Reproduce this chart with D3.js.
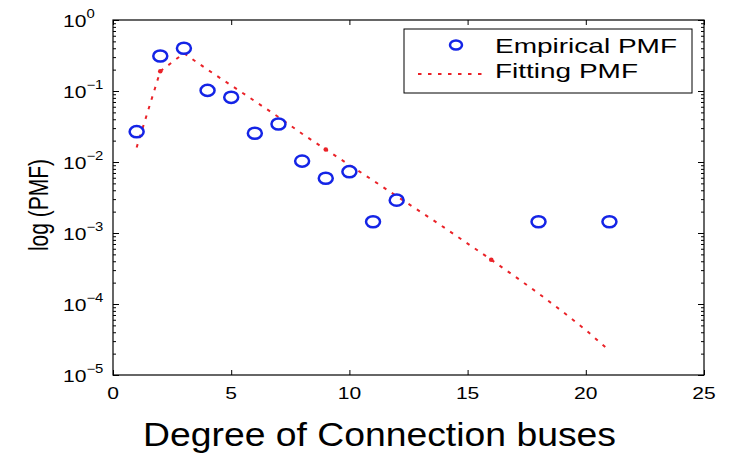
<!DOCTYPE html>
<html>
<head>
<meta charset="utf-8">
<script src="https://cdn.jsdelivr.net/npm/d3@7"></script>
<style>
body { margin: 0; background: #fff; }
svg { display: block; }
text { font-family: "Liberation Sans", Arial, sans-serif; fill: #000; }
</style>
</head>
<body>
<div id="chart"></div>
<script>
// # Empirical PMF (blue circles)
const empiricalDegree = [1, 2, 3, 4, 5, 6, 7, 8, 9, 10, 11, 12, 18, 21]
const empiricalPmf = [0.0267, 0.311, 0.40, 0.102, 0.0815, 0.0254, 0.0343, 0.0103, 0.0059, 0.0073, 0.00144, 0.0029, 0.00144, 0.00144]

// # Fitting PMF (red dotted line)
const fitDegree = [1, 2, 3, 4, 5, 6, 7, 8, 9, 10, 11, 12, 13, 14, 15, 16, 17, 18, 19, 20, 21]
const fitPmf = [0.016, 0.19, 0.34, 0.20, 0.12, 0.072, 0.043, 0.025, 0.015, 0.0091, 0.0055, 0.0033, 0.0020, 0.0012, 0.00071, 0.00042, 0.000245, 0.000141, 0.000079, 0.000043, 0.000022]
// # vertices where the dotted pattern shows a dot
const fitDotDegree = [2, 9, 16]

// # Axis ticks
const xTicks = [0, 5, 10, 15, 20, 25]
const yExponents = [0, -1, -2, -3, -4, -5]

const legendLabels = ['Empirical PMF', 'Fitting PMF']
const xTitle = 'Degree of Connection buses'
const yTitle = 'log (PMF)'

// # Settings
const width = 738, height = 460
const plotLeft = 113, plotRight = 704, plotTop = 20, plotBottom = 375
const blue = '#1424e6'
const red = '#ea2228'
const dotPattern = '3.5,6.5'
const stretch = 1.24   // text in the picture is wider than tall

const svg = d3.select('#chart').append('svg')
    .attr('width', width)
    .attr('height', height)

const x = d3.scaleLinear().domain([0, 25]).range([plotLeft, plotRight])
const y = d3.scaleLog().domain([1e-5, 1]).range([plotBottom, plotTop])

// # Minor log ticks
const minorTicks = []
yExponents.slice(0, -1).forEach(e => {
    for (let k = 2; k <= 9; k++) minorTicks.push(k * Math.pow(10, e - 1))
})
const majorTicks = yExponents.map(e => Math.pow(10, e))

const axisStyle = g => {
    g.select('.domain').remove()
    g.selectAll('line').attr('stroke', '#000').attr('stroke-width', 1)
}

// # Ticks pointing inward on every side
svg.append('g').attr('transform', `translate(0,${plotBottom})`)
    .call(d3.axisBottom(x).tickValues(xTicks).tickSize(-5).tickFormat('')).call(axisStyle)
svg.append('g').attr('transform', `translate(0,${plotTop})`)
    .call(d3.axisTop(x).tickValues(xTicks).tickSize(-5).tickFormat('')).call(axisStyle)
svg.append('g').attr('transform', `translate(${plotLeft},0)`)
    .call(d3.axisLeft(y).tickValues(majorTicks).tickSize(-6).tickFormat('')).call(axisStyle)
svg.append('g').attr('transform', `translate(${plotLeft},0)`)
    .call(d3.axisLeft(y).tickValues(minorTicks).tickSize(-3).tickFormat('')).call(axisStyle)
svg.append('g').attr('transform', `translate(${plotRight},0)`)
    .call(d3.axisRight(y).tickValues(majorTicks).tickSize(-6).tickFormat('')).call(axisStyle)
svg.append('g').attr('transform', `translate(${plotRight},0)`)
    .call(d3.axisRight(y).tickValues(minorTicks).tickSize(-3).tickFormat('')).call(axisStyle)

// # Plot box
svg.append('rect')
    .attr('x', plotLeft).attr('y', plotTop)
    .attr('width', plotRight - plotLeft).attr('height', plotBottom - plotTop)
    .attr('fill', 'none').attr('stroke', '#000').attr('stroke-width', 1.2)

// # X tick labels
svg.append('g').selectAll('g')
    .data(xTicks).enter().append('g')
    .attr('transform', d => `translate(${x(d)},399) scale(${stretch},1)`)
    .append('text')
    .attr('text-anchor', 'middle')
    .style('font-size', '17px')
    .text(d => d)

// # Y tick labels: 10^e
const yLab = svg.append('g').selectAll('g')
    .data(yExponents).enter().append('g')
    .attr('transform', d => `translate(63,${y(Math.pow(10, d)) + 6.5}) scale(${stretch},1)`)
    .append('text')
yLab.append('tspan').style('font-size', '17px').text('10')
yLab.append('tspan').style('font-size', '12px').attr('dy', -9)
    .text(d => (d < 0 ? '\u2212' + (-d) : d))

// # Fitting line
const line = d3.line().x(d => x(d[0])).y(d => y(d[1]))
svg.append('path')
    .datum(d3.zip(fitDegree, fitPmf))
    .attr('d', line)
    .attr('fill', 'none')
    .attr('stroke', red)
    .attr('stroke-width', 2)
    .attr('stroke-dasharray', dotPattern)

svg.append('g').selectAll('circle')
    .data(fitDotDegree).enter().append('circle')
    .attr('cx', d => x(d))
    .attr('cy', d => y(fitPmf[fitDegree.indexOf(d)]))
    .attr('r', 2.3)
    .attr('fill', red)

// # Empirical circles
svg.append('g').selectAll('ellipse')
    .data(d3.zip(empiricalDegree, empiricalPmf)).enter().append('ellipse')
    .attr('cx', d => x(d[0]))
    .attr('cy', d => y(d[1]))
    .attr('rx', 7)
    .attr('ry', 5.6)
    .attr('fill', 'none')
    .attr('stroke', blue)
    .attr('stroke-width', 2.5)

// # Legend
const legend = svg.append('g')
legend.append('rect')
    .attr('x', 404).attr('y', 29).attr('width', 288).attr('height', 64)
    .attr('fill', '#fff').attr('stroke', '#000').attr('stroke-width', 1)
legend.append('ellipse')
    .attr('cx', 456).attr('cy', 45).attr('rx', 6).attr('ry', 4.6)
    .attr('fill', 'none').attr('stroke', blue).attr('stroke-width', 2.5)
legend.append('line')
    .attr('x1', 418).attr('x2', 484).attr('y1', 74).attr('y2', 74)
    .attr('stroke', red).attr('stroke-width', 2).attr('stroke-dasharray', dotPattern)
legend.selectAll('text.leg')
    .data(legendLabels).enter().append('text')
    .attr('class', 'leg')
    .attr('x', 495)
    .attr('y', (d, i) => 53 + i * 25)
    .attr('textLength', (d, i) => [182, 143][i])
    .attr('lengthAdjust', 'spacingAndGlyphs')
    .style('font-size', '21px')
    .text(d => d)

// # Axis titles
svg.append('text')
    .attr('x', 143).attr('y', 446)
    .attr('textLength', 473)
    .attr('lengthAdjust', 'spacingAndGlyphs')
    .style('font-size', '33px')
    .text(xTitle)

svg.append('g')
    .attr('transform', `translate(48,205) scale(1.3,1) rotate(-90)`)
    .append('text')
    .attr('text-anchor', 'middle')
    .style('font-size', '21px')
    .text(yTitle)
</script>
</body>
</html>
